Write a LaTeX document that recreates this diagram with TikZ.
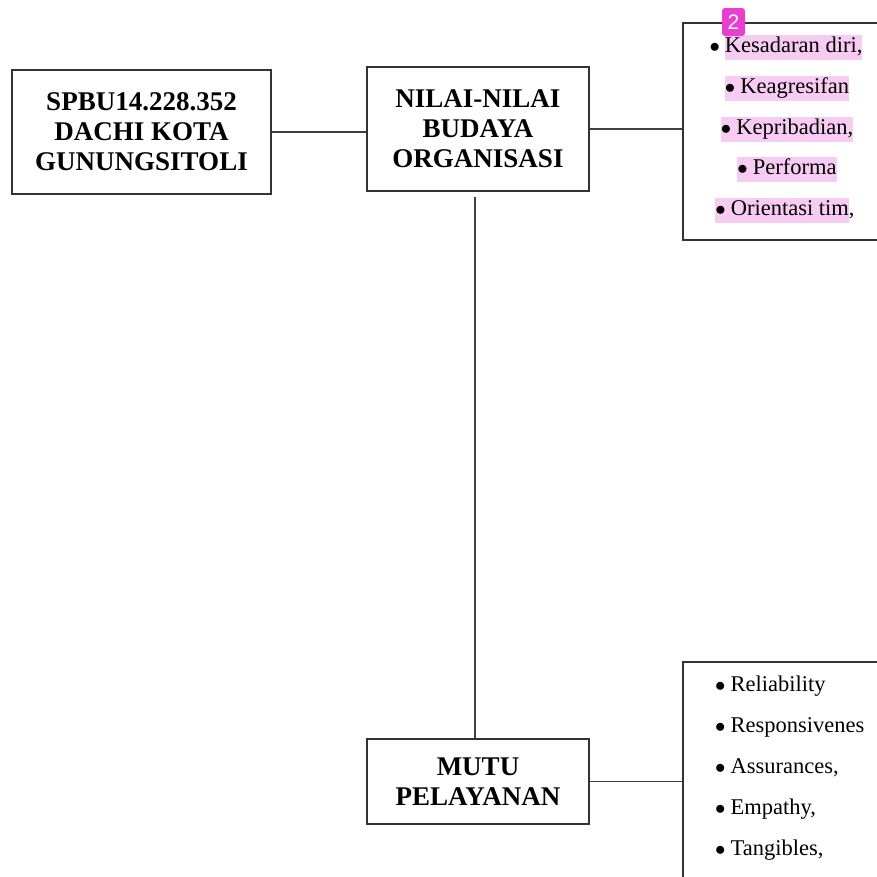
\documentclass[tikz,border=0pt]{standalone}
\usepackage{fontspec}
\setmainfont{Liberation Serif}
\newfontfamily\badgefont{Liberation Sans}
\usetikzlibrary{positioning}
\definecolor{sorot}{RGB}{248,204,242}
\definecolor{lencana}{RGB}{232,62,210}
\newcommand{\tanda}[1]{{\setlength{\fboxsep}{0pt}\colorbox{sorot}{\strut#1}}}
\newcommand{\titik}{$\bullet$\hspace{5pt}}

\begin{document}
\begin{tikzpicture}[x=1pt,y=-1pt,
    kotak/.style={draw=black!80,line width=1.4pt,fill=white,align=center,
      inner sep=0pt,font=\bfseries\fontsize{27}{30}\selectfont},
    bingkai/.style={draw=black!80,line width=1.4pt,fill=white,inner sep=0pt},
    garis/.style={draw=black!75,line width=1.4pt},
    butir/.style={inner sep=0pt,font=\fontsize{22.5}{25}\selectfont}]
  \clip (0,0) rectangle (877,876);
  \fill[white] (0,0) rectangle (877,876);

  % kotak utama
  \node[kotak,minimum width=259pt,minimum height=124pt] (spbu) at (141.5,132)
    {SPBU14.228.352\\DACHI KOTA\\GUNUNGSITOLI};
  \node[kotak,minimum width=222pt,minimum height=124pt] (nilai) at (478,129)
    {NILAI-NILAI\\BUDAYA\\ORGANISASI};
  \node[kotak,minimum width=222pt,minimum height=85pt] (mutu) at (478,781.5)
    {MUTU\\PELAYANAN};

  % kotak daftar (terpotong di tepi)
  \node[bingkai,minimum width=240pt,minimum height=217pt] (budaya) at (803,131.5) {};
  \node[bingkai,minimum width=240pt,minimum height=238pt] (layanan) at (803,781) {};

  % garis penghubung
  \draw[garis] (spbu.east) -- (spbu.east -| nilai.west);
  \draw[garis] (nilai.east) -- (nilai.east -| budaya.west);
  \draw[garis] ([xshift=-3pt,yshift=-5pt]nilai.south) -- ([xshift=-3pt]mutu.north);
  \draw[garis] (mutu.east) -- (mutu.east -| layanan.west);

  % butir budaya organisasi
  \node[butir] (b1) at (786,47) {\titik\tanda{Kesadaran diri,}};
  \node[butir] (b2) at (787,88) {\tanda{\titik Keagresifan}};
  \node[butir] (b3) at (787,129) {\tanda{\titik Kepribadian,}};
  \node[butir] (b4) at (787,169) {\tanda{\titik Performa}};
  \node[butir] (b5) at (785,210) {\tanda{\titik Orientasi tim},};

  % lencana komentar
  \node[fill=lencana,rounded corners=3pt,minimum width=23pt,minimum height=28pt,
    inner sep=0pt,text=white,font=\badgefont\fontsize{21}{21}\selectfont]
    (nomor) at (733.5,22) {2};

  % butir mutu pelayanan
  \node[butir,anchor=west] (m1) at (715,686) {\titik Reliability};
  \node[butir,anchor=west] (m2) at (715,727) {\titik Responsivenes};
  \node[butir,anchor=west] (m3) at (715,768) {\titik Assurances,};
  \node[butir,anchor=west] (m4) at (715,809) {\titik Empathy,};
  \node[butir,anchor=west] (m5) at (715,850) {\titik Tangibles,};
\end{tikzpicture}
\end{document}
